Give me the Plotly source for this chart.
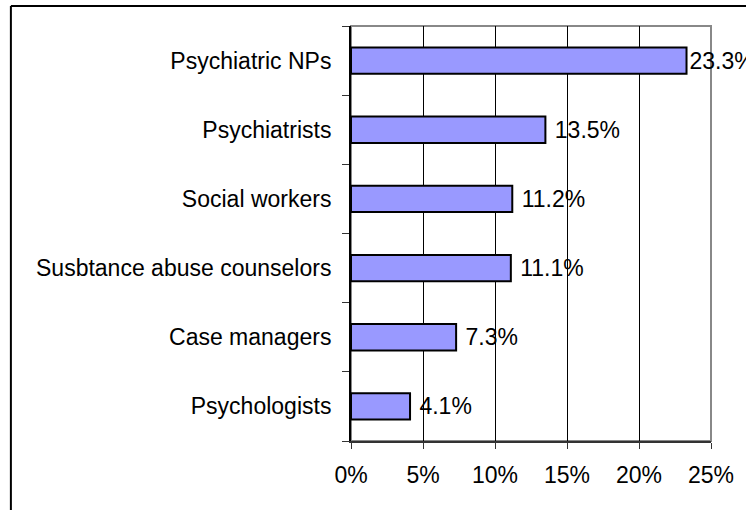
import plotly.graph_objects as go

categories = ["Psychiatric NPs", "Psychiatrists", "Social workers",
              "Susbtance abuse counselors", "Case managers", "Psychologists"]
values = [0.233, 0.135, 0.112, 0.111, 0.073, 0.041]
x_ticks = [0, 0.05, 0.10, 0.15, 0.20, 0.25]

FONT = "Liberation Sans, Arial, sans-serif"

# labels of bars ending near the plot edge sit tight to the bar; others get a small gap
templates = ["%{x:.1%}" if v > 0.2 else "\u00a0%{x:.1%}" for v in values]

fig = go.Figure(go.Bar(
    y=categories, x=values, orientation="h",
    marker=dict(color="#9999FF", line=dict(color="black", width=2)),
    texttemplate=templates, textposition="outside",
    textfont=dict(family=FONT, size=23, color="black"),
    constraintext="none", cliponaxis=False,
))

L, R, T, B = 351, 33, 26, 69
pw, ph = 746 - L - R, 510 - T - B

fig.update_layout(
    width=746, height=510,
    margin=dict(l=L, r=R, t=T, b=B, pad=0),
    paper_bgcolor="white", plot_bgcolor="white",
    bargap=0.62, showlegend=False,
    font=dict(family=FONT, size=23, color="black"),
    xaxis=dict(range=[0, 0.25], tickvals=x_ticks, tickformat=".0%",
               showgrid=True, gridcolor="black", gridwidth=1,
               showline=True, linecolor="#333333", linewidth=2,
               ticks="outside", ticklen=6, tickcolor="#333333", tickwidth=1,
               ticklabelstandoff=6, zeroline=False, fixedrange=True),
    yaxis=dict(categoryorder="array", categoryarray=categories[::-1],
               showgrid=False, showline=True, linecolor="black", linewidth=2,
               ticks="outside", ticklen=7, tickcolor="#333333", tickwidth=1,
               tickson="boundaries", ticklabelstandoff=13, fixedrange=True),
    shapes=[
        dict(type="rect", xref="paper", yref="paper", x0=0, x1=1, y0=0, y1=1,
             line=dict(color="#888888", width=2), layer="between"),
        dict(type="line", xref="paper", yref="paper",
             x0=(9 - L) / pw, x1=(9 - L) / pw, y0=-1, y1=(510 - B - 6) / ph,
             line=dict(color="black", width=2)),
        dict(type="line", xref="paper", yref="paper",
             x0=(9 - L) / pw, x1=2, y0=(510 - B - 6) / ph, y1=(510 - B - 6) / ph,
             line=dict(color="black", width=2)),
    ],
)

fig.write_html(
    "out.html",
    config={"displayModeBar": False},
    post_script="document.body.style.margin='0';document.body.style.overflow='hidden';",
)
